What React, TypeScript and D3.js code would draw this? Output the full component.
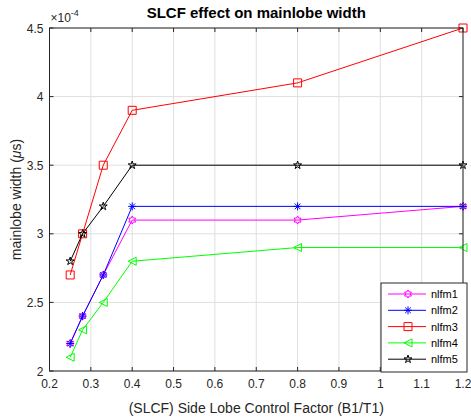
import React, { useEffect, useRef } from "react";
import * as d3 from "d3";

const xValues = [0.25, 0.28, 0.33, 0.4, 0.8, 1.2];
const nlfm1 = [2.2, 2.4, 2.7, 3.1, 3.1, 3.2];
const nlfm2 = [2.2, 2.4, 2.7, 3.2, 3.2, 3.2];
const nlfm3 = [2.7, 3.0, 3.5, 3.9, 4.1, 4.5];
const nlfm4 = [2.1, 2.3, 2.5, 2.8, 2.9, 2.9];
const nlfm5 = [2.8, 3.0, 3.2, 3.5, 3.5, 3.5];
const seriesNames = ["nlfm1", "nlfm2", "nlfm3", "nlfm4", "nlfm5"];
const seriesColors = ["#ff00ff", "#0000ff", "#ff0000", "#00ff00", "#000000"];
const seriesMarkers = ["hexagram", "asterisk", "square", "triangleLeft", "pentagram"];
const xTicks = [0.2, 0.3, 0.4, 0.5, 0.6, 0.7, 0.8, 0.9, 1, 1.1, 1.2];
const yTicks = [2, 2.5, 3, 3.5, 4, 4.5];

const W = 471, H = 417;
const M = { left: 49.5, right: 463, top: 28, bottom: 371 };
const FONT = "'Liberation Sans', Arial, Helvetica, sans-serif";

function markerPath(type: string, cx: number, cy: number, s: number): string {
  const r = s / 2;
  if (type === "square") {
    return `M${cx - r},${cy - r}h${s}v${s}h${-s}Z`;
  }
  if (type === "triangleLeft") {
    return `M${cx - r},${cy}L${cx + r},${cy - r}L${cx + r},${cy + r}Z`;
  }
  if (type === "asterisk") {
    let p = "";
    for (let i = 0; i < 4; i++) {
      const a = (i * Math.PI) / 4;
      const dx = r * Math.cos(a), dy = r * Math.sin(a);
      p += `M${cx - dx},${cy - dy}L${cx + dx},${cy + dy}`;
    }
    return p;
  }
  if (type === "pentagram") {
    const pts: string[] = [];
    const ro = r * 1.05, ri = ro * 0.38;
    for (let i = 0; i < 10; i++) {
      const a = -Math.PI / 2 + (i * Math.PI) / 5;
      const rr = i % 2 === 0 ? ro : ri;
      pts.push(`${cx + rr * Math.cos(a)},${cy + rr * Math.sin(a)}`);
    }
    return "M" + pts.join("L") + "Z";
  }
  if (type === "hexagram") {
    const pts: string[] = [];
    const ro = r, ri = ro * 0.577;
    for (let i = 0; i < 12; i++) {
      const a = -Math.PI / 2 + (i * Math.PI) / 6;
      const rr = i % 2 === 0 ? ro : ri;
      pts.push(`${cx + rr * Math.cos(a)},${cy + rr * Math.sin(a)}`);
    }
    return "M" + pts.join("L") + "Z";
  }
  return "";
}

export default function App() {
  const ref = useRef<SVGSVGElement>(null);
  useEffect(() => {
    const svg = d3.select(ref.current);
    svg.selectAll("*").remove();
    svg.append("rect").attr("width", W).attr("height", H).attr("fill", "#fff");

    const x = d3.scaleLinear().domain([0.2, 1.2]).range([M.left, M.right]);
    const y = d3.scaleLinear().domain([2, 4.5]).range([M.bottom, M.top]);

    // grid
    const g = svg.append("g");
    xTicks.forEach((t) => {
      g.append("line").attr("x1", x(t)).attr("x2", x(t)).attr("y1", M.top).attr("y2", M.bottom)
        .attr("stroke", "#dfdfdf").attr("stroke-width", 1);
    });
    yTicks.forEach((t) => {
      g.append("line").attr("x1", M.left).attr("x2", M.right).attr("y1", y(t)).attr("y2", y(t))
        .attr("stroke", "#dfdfdf").attr("stroke-width", 1);
    });

    // data
    const all = [nlfm1, nlfm2, nlfm3, nlfm4, nlfm5];
    const line = d3.line<[number, number]>().x((d) => x(d[0])).y((d) => y(d[1]));
    all.forEach((vals, i) => {
      const pts: [number, number][] = xValues.map((xv, j) => [xv, vals[j]]);
      svg.append("path").attr("d", line(pts)!).attr("fill", "none")
        .attr("stroke", seriesColors[i]).attr("stroke-width", 1);
      pts.forEach((p) => {
        svg.append("path").attr("d", markerPath(seriesMarkers[i], x(p[0]), y(p[1]), 8))
          .attr("fill", "none").attr("stroke", seriesColors[i]).attr("stroke-width", 1);
      });
    });

    // axes box
    svg.append("rect").attr("x", M.left).attr("y", M.top).attr("width", M.right - M.left)
      .attr("height", M.bottom - M.top).attr("fill", "none").attr("stroke", "#262626").attr("stroke-width", 1);

    const tl = 4;
    xTicks.forEach((t) => {
      svg.append("line").attr("x1", x(t)).attr("x2", x(t)).attr("y1", M.bottom).attr("y2", M.bottom - tl).attr("stroke", "#262626");
      svg.append("line").attr("x1", x(t)).attr("x2", x(t)).attr("y1", M.top).attr("y2", M.top + tl).attr("stroke", "#262626");
      svg.append("text").attr("x", x(t)).attr("y", M.bottom + 17).attr("text-anchor", "middle")
        .attr("font-family", FONT).attr("font-size", 12).attr("fill", "#262626").text(String(t));
    });
    yTicks.forEach((t) => {
      svg.append("line").attr("x1", M.left).attr("x2", M.left + tl).attr("y1", y(t)).attr("y2", y(t)).attr("stroke", "#262626");
      svg.append("line").attr("x1", M.right).attr("x2", M.right - tl).attr("y1", y(t)).attr("y2", y(t)).attr("stroke", "#262626");
      svg.append("text").attr("x", M.left - 6).attr("y", y(t) + 4.5).attr("text-anchor", "end")
        .attr("font-family", FONT).attr("font-size", 12).attr("fill", "#262626").text(String(t));
    });

    // exponent
    const ex = svg.append("text").attr("x", M.left + 1).attr("y", M.top - 6)
      .attr("font-family", FONT).attr("font-size", 12).attr("fill", "#262626");
    ex.append("tspan").text("×10");
    ex.append("tspan").attr("dy", -6).attr("font-size", 9).text("-4");

    // title
    svg.append("text").attr("x", (M.left + M.right) / 2).attr("y", 18).attr("text-anchor", "middle")
      .attr("font-family", FONT).attr("font-size", 15).attr("font-weight", "bold").attr("fill", "#000")
      .text("SLCF effect on mainlobe width");

    // x label
    svg.append("text").attr("x", (M.left + M.right) / 2).attr("y", 413).attr("text-anchor", "middle")
      .attr("font-family", FONT).attr("font-size", 14).attr("fill", "#262626")
      .text("(SLCF) Side Lobe Control Factor (B1/T1)");

    // y label
    const yl = svg.append("text").attr("transform", `translate(21,${(M.top + M.bottom) / 2}) rotate(-90)`)
      .attr("text-anchor", "middle").attr("font-family", FONT).attr("font-size", 14).attr("fill", "#262626");
    yl.append("tspan").text("mainlobe width (");
    yl.append("tspan").attr("font-style", "italic").text("μ");
    yl.append("tspan").text("s)");

    // legend
    const lx = 381, ly = 283, lw = 86, lh = 89;
    svg.append("rect").attr("x", lx).attr("y", ly).attr("width", lw).attr("height", lh)
      .attr("fill", "#fff").attr("stroke", "#262626").attr("stroke-width", 1);
    seriesNames.forEach((name, i) => {
      const cy = ly + 11 + i * 16.3;
      svg.append("line").attr("x1", lx + 7).attr("x2", lx + 45).attr("y1", cy).attr("y2", cy)
        .attr("stroke", seriesColors[i]).attr("stroke-width", 1);
      svg.append("path").attr("d", markerPath(seriesMarkers[i], lx + 27, cy, 8))
        .attr("fill", "none").attr("stroke", seriesColors[i]).attr("stroke-width", 1);
      svg.append("text").attr("x", lx + 50).attr("y", cy + 4).attr("font-family", FONT)
        .attr("font-size", 11).attr("fill", "#000").text(name);
    });
  }, []);
  return (
    <svg ref={ref} width={W} height={H} style={{ position: "absolute", left: 0, top: 0 }} />
  );
}
